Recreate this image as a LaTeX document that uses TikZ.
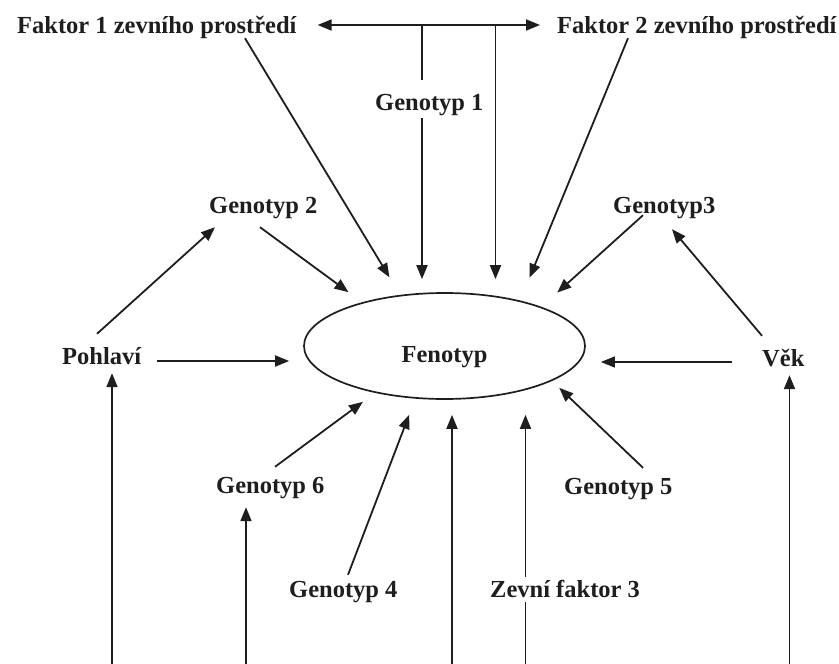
\documentclass[tikz,border=0pt]{standalone}
\usepackage{fontspec}
\setmainfont{Liberation Serif}
\usetikzlibrary{shapes.geometric,arrows.meta,calc}
\definecolor{ink}{RGB}{30,30,30}
\begin{document}
\begin{tikzpicture}[x=1pt,y=-1pt,
  lblfont/.style={font=\fontsize{24.5}{29}\selectfont\bfseries, text=ink},
  lbl/.style={lblfont, inner sep=0pt, text height=17pt, text depth=5pt, anchor=base west},
  link/.style={draw=ink, line width=1.8pt},
  arr/.style={link, -{Triangle[length=14pt,width=11pt]}},
  darr/.style={link, {Triangle[length=14pt,width=11pt]}-{Triangle[length=14pt,width=11pt]}}]
\useasboundingbox[fill=white] (0,0) rectangle (839,664);

% nodes
\node[lbl] (f1) at (17,33) {Faktor 1 zevního prostředí};
\node[lbl] (f2) at (557,33) {Faktor 2 zevního prostředí};
\node[lbl] (g1) at (375,110) {Genotyp 1};
\node[lbl] (g2) at (209,213) {Genotyp 2};
\node[lbl] (g3) at (613,213) {Genotyp3};
\node[lbl] (poh) at (62,364) {Pohlaví};
\node[lbl] (vek) at (762,366) {Věk};
\node[lbl] (g6) at (216,493) {Genotyp 6};
\node[lbl] (g5) at (564,494) {Genotyp 5};
\node[lbl] (g4) at (289,597) {Genotyp 4};
\node[lbl] (z3) at (490,597) {Zevní faktor 3};
\node[ellipse, draw=ink, line width=1.7pt, minimum width=281pt, minimum height=106pt,
      inner sep=0pt, text height=32pt, text depth=0pt, lblfont] (fen) at (444.5,346) {Fenotyp};

% junctions and free ends
\coordinate (j1) at (422,25);
\coordinate (j2) at (495.5,25);
\coordinate (bpoh) at (112,664);
\coordinate (bg6) at (246,664);
\coordinate (bfen) at (452,664);
\coordinate (bz3) at (525.5,664);
\coordinate (bvek) at (789.5,664);

% top connectors
\draw[darr] ($(f1.east)+(21,-2)$) -- ($(f2.west)+(-17,-2)$);
\draw[link, shorten >=13pt] (j1) -- (j1 |- g1.north);
\draw[arr, shorten <=3pt, shorten >=13pt] (j1 |- g1.south) -- (j1 |- fen.north);
\draw[arr, shorten >=13pt] (j2) -- (j2 |- fen.north);
\draw[arr, shorten >=20.6pt] ($(f1.south west)+(228,0)$) -- (fen.131.1);
\draw[arr, shorten >=24.6pt] ($(f2.south west)+(71,0)$) -- (fen.31.8);

% left side
\draw[arr, shorten >=17pt] ($(g2.south west)+(51,9)$) -- (fen.152.7);
\draw[arr] ($(poh.north west)+(35,-13)$) -- ($(g2.south west)+(6,9)$);
\draw[arr] ($(poh.east)+(16,3)$) -- ($(poh.east -| fen.west)+(-14,3)$);

% right side
\draw[arr, shorten >=21.3pt] ($(g3.south west)+(30,-3)$) -- (fen.22.1);
\draw[arr] ($(vek.north west)+(0,-13)$) -- ($(g3.south west)+(59,11)$);
\draw[arr, line width=1.2pt] ($(vek.west)+(-30,2)$) -- ($(vek.west -| fen.east)+(15,2)$);

% lower side
\draw[arr, shorten >=10pt] ($(g5.north west)+(79,-9)$) -- (fen.-18.5);
\draw[arr, shorten >=15pt] ($(g6.north west)+(59,-9)$) -- (fen.-146.5);
\draw[arr, shorten >=17.3pt] ($(g4.north west)+(59,-5)$) -- (fen.-119.6);

% verticals from below
\draw[arr] (bpoh) -- ($(bpoh |- poh.south)+(0,4)$);
\draw[arr] (bg6) -- ($(bg6 |- g6.south)+(0,9)$);
\draw[arr, shorten >=15pt] (bfen) -- (bfen |- fen.south);
\draw[link] (bz3) -- (bz3 |- z3.south);
\draw[arr, shorten <=3pt, shorten >=15pt] (bz3 |- z3.north) -- (bz3 |- fen.south);
\draw[arr] (bvek) -- ($(bvek |- vek.south)+(0,4)$);
\end{tikzpicture}
\end{document}
